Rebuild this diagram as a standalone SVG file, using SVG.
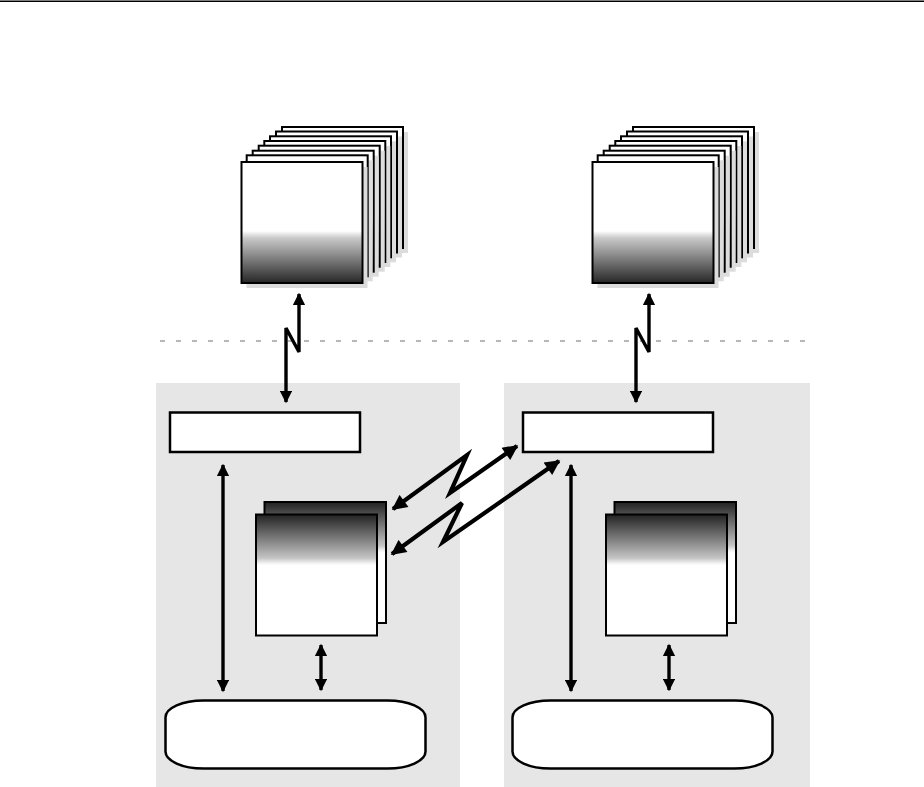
<svg xmlns="http://www.w3.org/2000/svg" width="924" height="787" viewBox="0 0 924 787">
<style>
.panel{fill:#e6e6e6;stroke:none}
.box{fill:#fff;stroke:#000;stroke-width:2.5}
.page{fill:url(#gTop);stroke:#000;stroke-width:2}
.shadow{fill:#dcdcdc;stroke:none}
.doc{fill:url(#gMid);stroke:#000;stroke-width:2}
.conn{fill:none;stroke:#000;stroke-width:3.4;stroke-linejoin:miter;marker-start:url(#ah);marker-end:url(#ah)}
.diag{stroke-width:4.2}
</style>
<defs>
<linearGradient id="gTop" x1="0" y1="0" x2="0" y2="1">
<stop offset="0" stop-color="#fff"/>
<stop offset="0.57" stop-color="#fff"/>
<stop offset="0.585" stop-color="#f0f0f0"/>
<stop offset="0.63" stop-color="#c8c8c8"/>
<stop offset="1" stop-color="#262626"/>
</linearGradient>
<linearGradient id="gMid" x1="0" y1="0" x2="0" y2="1">
<stop offset="0" stop-color="#222"/>
<stop offset="0.36" stop-color="#c4c4c4"/>
<stop offset="0.40" stop-color="#f0f0f0"/>
<stop offset="0.42" stop-color="#fff"/>
<stop offset="1" stop-color="#fff"/>
</linearGradient>
<marker id="ah" viewBox="0 0 10 10" refX="9" refY="5" markerWidth="4" markerHeight="3.6" orient="auto-start-reverse" markerUnits="strokeWidth">
<path d="M0,0 L10,5 L0,10 Z" fill="#000"/>
</marker>
<g id="stackPage">
<rect class="shadow" x="5" y="5" width="121" height="121"/>
<rect class="page" x="0" y="0" width="121" height="121"/>
</g>
</defs>
<rect width="924" height="787" fill="#fff"/>
<line x1="0" y1="1.3" x2="924" y2="1.3" stroke="#000" stroke-width="1.5"/>

<line id="divider" x1="160" y1="341" x2="810" y2="341" stroke="#b8b8b8" stroke-width="2.2" stroke-dasharray="5 11"/>

<g id="panel-left"><rect class="panel" x="156" y="383" width="304" height="404"/></g>
<g id="panel-right"><rect class="panel" x="504" y="383" width="306" height="404"/></g>

<g id="stack-left">
<use href="#stackPage" x="282" y="127"/>
<use href="#stackPage" x="276" y="131.5"/>
<use href="#stackPage" x="270" y="136.3"/>
<use href="#stackPage" x="264.3" y="141"/>
<use href="#stackPage" x="258.7" y="145.7"/>
<use href="#stackPage" x="252.7" y="150.7"/>
<use href="#stackPage" x="246.7" y="155.3"/>
<use href="#stackPage" x="241.5" y="162"/>
</g>
<g id="stack-right">
<use href="#stackPage" x="633" y="127"/>
<use href="#stackPage" x="627" y="131.5"/>
<use href="#stackPage" x="621" y="136.3"/>
<use href="#stackPage" x="615.3" y="141"/>
<use href="#stackPage" x="609.7" y="145.7"/>
<use href="#stackPage" x="603.7" y="150.7"/>
<use href="#stackPage" x="597.7" y="155.3"/>
<use href="#stackPage" x="592.5" y="162"/>
</g>

<g id="box-left"><rect class="box" x="170" y="412.5" width="190" height="39.5"/></g>
<g id="box-right"><rect class="box" x="523" y="412.5" width="190" height="39.5"/></g>

<g id="docs-left">
<rect class="doc" x="264.5" y="502" width="121.5" height="121"/>
<rect class="doc" x="256" y="514.5" width="121" height="121"/>
</g>
<g id="docs-right">
<rect class="doc" x="614.5" y="502" width="121.5" height="121"/>
<rect class="doc" x="606" y="514.5" width="121" height="121"/>
</g>

<g id="store-left"><rect class="box" x="165.5" y="700.5" width="260" height="68" rx="38" ry="17" stroke-width="2"/></g>
<g id="store-right"><rect class="box" x="512.5" y="700.5" width="260" height="68" rx="38" ry="17" stroke-width="2"/></g>

<g id="connectors">
<path class="conn" d="M299,294 L299,352 L286,328 L286,402"/>
<path class="conn" d="M649,294 L649,352 L636,328 L636,402"/>
<path class="conn diag" d="M393,509 L467,455 L450,493 L517,446"/>
<path class="conn diag" d="M392,554 L462,503 L443,542 L559,461"/>
<path class="conn" d="M223,465 L223,691"/>
<path class="conn" d="M321,645 L321,690"/>
<path class="conn" d="M571,465 L571,691"/>
<path class="conn" d="M669,645 L669,690"/>
</g>
</svg>
